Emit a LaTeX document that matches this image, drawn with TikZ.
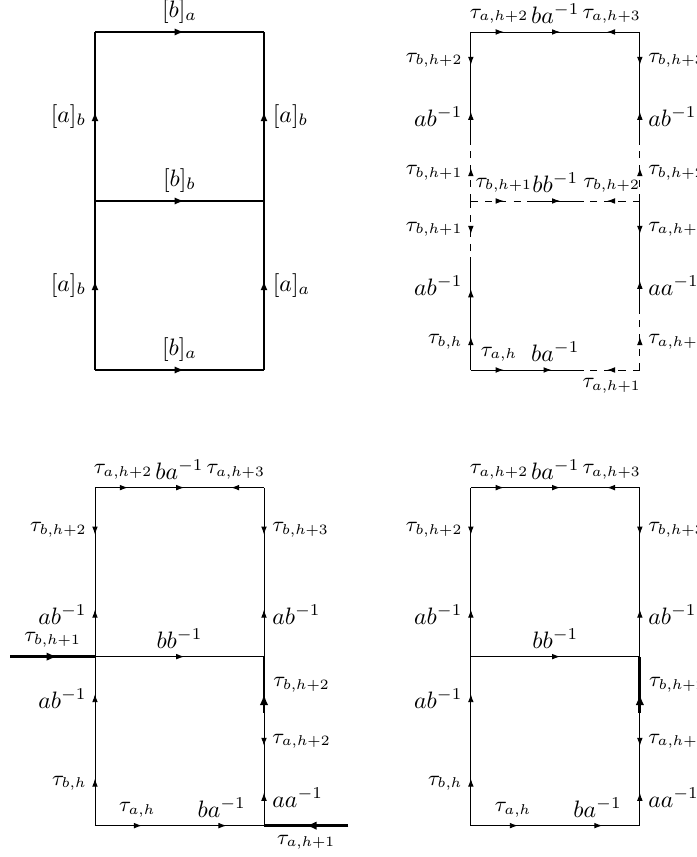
\documentclass[tikz,border=0pt]{standalone}
\usepackage{amsmath}
\usetikzlibrary{arrows.meta,decorations.markings}

\tikzset{
  arr/.style={postaction={decorate,decoration={markings,
    mark=at position #1 with {\arrow[xshift=2pt]{Latex[length={2.8pt 1.5},width={1.8pt 1.5}]}}}}},
  arr/.default=0.5,
  bigarr/.style={very thick,arr=#1},
  bigarr/.default=0.5,
  word/.style={font=\normalsize},
}

\begin{document}
\begin{tikzpicture}
\useasboundingbox (-1.405,-7.204) rectangle (8.905,5.473);

\begin{scope}[thick]
\draw[arr] (0,0) -- (2.5,0) node[midway,above] (l1b) {$[b]_a$};
\draw[arr] (0,2.5) -- (2.5,2.5) node[midway,above] (l1m) {$[b]_b$};
\draw[arr] (0,5) -- (2.5,5) node[midway,above] (l1t) {$[b]_a$};
\draw[arr] (0,0) -- (0,2.5) node[midway,left] (l1lb) {$[a]_b$};
\draw[arr] (0,2.5) -- (0,5) node[midway,left] (l1lt) {$[a]_b$};
\draw[arr] (2.5,0) -- (2.5,2.5) node[midway,right] (l1rb) {$[a]_a$};
\draw[arr] (2.5,2.5) -- (2.5,5) node[midway,right] (l1rt) {$[a]_b$};
\end{scope}

\begin{scope}[xshift=5.56cm,every node/.style={font=\small}]
\draw[arr] (0,5) -- (0.833,5) node[midway,above] (l2t1) {$\tau_{a,h+2}$};
\draw[arr] (0.833,5) -- (1.667,5) node[midway,above,word] (l2t2) {$ba^{-1}$};
\draw[arr] (2.5,5) -- (1.667,5) node[midway,above] (l2t3) {$\tau_{a,h+3}$};
\draw[arr] (0,5) -- (0,4.167) node[midway,left] (l2l1) {$\tau_{b,h+2}$};
\draw[arr] (0,3.333) -- (0,4.167) node[midway,left,word] (l2l2) {$ab^{-1}$};
\draw[arr,dashed] (0,2.5) -- (0,3.333) node[midway,left] (l2l3) {$\tau_{b,h+1}$};
\draw[arr] (2.5,5) -- (2.5,4.167) node[midway,right] (l2r1) {$\tau_{b,h+3}$};
\draw[arr] (2.5,3.333) -- (2.5,4.167) node[midway,right,word] (l2r2) {$ab^{-1}$};
\draw[arr,dashed] (2.5,2.5) -- (2.5,3.333) node[midway,right] (l2r3) {$\tau_{b,h+2}$};
\draw[arr,dashed] (0,2.5) -- (0.833,2.5) node[midway,above,xshift=2pt] (l2m1) {$\tau_{b,h+1}$};
\draw[arr] (0.833,2.5) -- (1.667,2.5) node[midway,above,word] (l2m2) {$bb^{-1}$};
\draw[arr,dashed] (2.5,2.5) -- (1.667,2.5) node[midway,above] (l2m3) {$\tau_{b,h+2}$};
\draw[arr,dashed] (0,2.5) -- (0,1.667) node[midway,left] (l2l4) {$\tau_{b,h+1}$};
\draw[arr=0.35] (0,0.833) -- (0,1.667) node[midway,left,word] (l2l5) {$ab^{-1}$};
\draw[arr] (0,0) -- (0,0.833) node[midway,left] (l2l6) {$\tau_{b,h}$};
\draw[arr] (2.5,2.5) -- (2.5,1.667) node[midway,right] (l2r4) {$\tau_{a,h+2}$};
\draw[arr] (2.5,0.833) -- (2.5,1.667) node[midway,right,word] (l2r5) {$aa^{-1}$};
\draw[arr,dashed] (2.5,0) -- (2.5,0.833) node[midway,right] (l2r6) {$\tau_{a,h+1}$};
\draw[arr] (0,0) -- (0.833,0) node[midway,above] (l2b1) {$\tau_{a,h}$};
\draw[arr=0.35] (0.833,0) -- (1.667,0) node[midway,above,word] (l2b2) {$ba^{-1}$};
\draw[arr,dashed] (2.5,0) -- (1.667,0) node[midway,below] (l2b3) {$\tau_{a,h+1}$};
\end{scope}

\begin{scope}[yshift=-6.74cm,every node/.style={font=\small}]
\draw[arr] (0,5) -- (0.833,5) node[midway,above] (l3t1) {$\tau_{a,h+2}$};
\draw[arr] (0.833,5) -- (1.667,5) node[midway,above,word] (l3t2) {$ba^{-1}$};
\draw[arr] (2.5,5) -- (1.667,5) node[midway,above] (l3t3) {$\tau_{a,h+3}$};
\draw[arr] (0,5) -- (0,3.75) node[midway,left] (l3l1) {$\tau_{b,h+2}$};
\draw[arr] (0,2.5) -- (0,3.75) node[midway,left,word] (l3l2) {$ab^{-1}$};
\draw[arr] (2.5,5) -- (2.5,3.75) node[midway,right] (l3r1) {$\tau_{b,h+3}$};
\draw[arr] (2.5,2.5) -- (2.5,3.75) node[midway,right,word] (l3r2) {$ab^{-1}$};
\draw[arr] (0,2.5) -- (2.5,2.5) node[midway,above,word] (l3m) {$bb^{-1}$};
\draw[arr] (0,1.25) -- (0,2.5) node[midway,left,word] (l3l3) {$ab^{-1}$};
\draw[arr] (0,0) -- (0,1.25) node[midway,left] (l3l4) {$\tau_{b,h}$};
\draw[bigarr=0.25] (2.5,1.667) -- (2.5,2.5) node[midway,right] (l3r3) {$\tau_{b,h+2}$};
\draw[arr] (2.5,1.667) -- (2.5,0.833) node[midway,right] (l3r4) {$\tau_{a,h+2}$};
\draw[arr] (2.5,0) -- (2.5,0.833) node[midway,right,word] (l3r5) {$aa^{-1}$};
\draw[arr] (0,0) -- (1.25,0) node[midway,above] (l3b1) {$\tau_{a,h}$};
\draw[arr] (1.25,0) -- (2.5,0) node[midway,above,word] (l3b2) {$ba^{-1}$};
\draw[bigarr] (-1.25,2.5) -- (0,2.5) node[midway,above] (l3in) {$\tau_{b,h+1}$};
\draw[bigarr=0.45] (3.75,0) -- (2.5,0) node[midway,below] (l3out) {$\tau_{a,h+1}$};
\end{scope}

\begin{scope}[shift={(5.56,-6.74)},every node/.style={font=\small}]
\draw[arr] (0,5) -- (0.833,5) node[midway,above] (l4t1) {$\tau_{a,h+2}$};
\draw[arr] (0.833,5) -- (1.667,5) node[midway,above,word] (l4t2) {$ba^{-1}$};
\draw[arr] (2.5,5) -- (1.667,5) node[midway,above] (l4t3) {$\tau_{a,h+3}$};
\draw[arr] (0,5) -- (0,3.75) node[midway,left] (l4l1) {$\tau_{b,h+2}$};
\draw[arr] (0,2.5) -- (0,3.75) node[midway,left,word] (l4l2) {$ab^{-1}$};
\draw[arr] (2.5,5) -- (2.5,3.75) node[midway,right] (l4r1) {$\tau_{b,h+3}$};
\draw[arr] (2.5,2.5) -- (2.5,3.75) node[midway,right,word] (l4r2) {$ab^{-1}$};
\draw[arr] (0,2.5) -- (2.5,2.5) node[midway,above,word] (l4m) {$bb^{-1}$};
\draw[arr] (0,1.25) -- (0,2.5) node[midway,left,word] (l4l3) {$ab^{-1}$};
\draw[arr] (0,0) -- (0,1.25) node[midway,left] (l4l4) {$\tau_{b,h}$};
\draw[bigarr=0.25] (2.5,1.667) -- (2.5,2.5) node[midway,right] (l4r3) {$\tau_{b,h+2}$};
\draw[arr] (2.5,1.667) -- (2.5,0.833) node[midway,right] (l4r4) {$\tau_{a,h+2}$};
\draw[arr] (2.5,0) -- (2.5,0.833) node[midway,right,word] (l4r5) {$aa^{-1}$};
\draw[arr] (0,0) -- (1.25,0) node[midway,above] (l4b1) {$\tau_{a,h}$};
\draw[arr] (1.25,0) -- (2.5,0) node[midway,above,word] (l4b2) {$ba^{-1}$};
\end{scope}
\end{tikzpicture}
\end{document}
